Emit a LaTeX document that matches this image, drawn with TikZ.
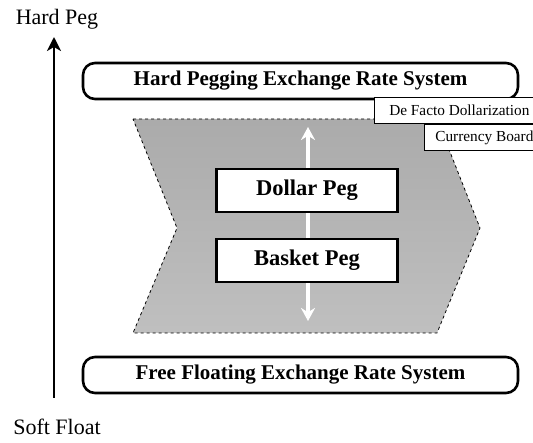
\documentclass[tikz,border=0pt]{standalone}
\usepackage{fontspec}
\setmainfont{Liberation Serif}
\usetikzlibrary{arrows.meta}

\begin{document}
\begin{tikzpicture}
  [x=1pt,y=-1pt,
   system/.style={draw,line width=2.6pt,rounded corners=12pt,minimum width=435pt,minimum height=36pt,font=\fontsize{21}{24}\selectfont\bfseries},
   peg/.style={draw,fill=white,line width=2.6pt,minimum width=181pt,minimum height=43pt,font=\fontsize{22.5}{26}\selectfont\bfseries},
   tag/.style={draw,fill=white,line width=0.8pt,anchor=west,inner xsep=5pt,minimum height=26pt,font=\fontsize{15.3}{18}\selectfont},
   axislabel/.style={font=\fontsize{22}{25}\selectfont}]
  \useasboundingbox (0,0) rectangle (533,443);

  % band of the intermediate regimes
  \draw[dashed,line width=0.8pt,top color=gray!66,bottom color=gray!50]
    (133,119) -- (437,119) -- (480,228) -- (437,333) -- (133,333) -- (177,228) -- cycle;

  \coordinate (up) at (308,127);
  \coordinate (down) at (308,321);
  \draw[white,line width=4pt,{Stealth[length=13pt,width=14pt]}-{Stealth[length=13pt,width=14pt]}] (down) -- (up);

  \node[peg] (dollar) at (307,190.5) {Dollar Peg};
  \node[peg] (basket) at (307,260.5) {Basket Peg};

  \node[system] (hard) at (300.5,81) {Hard Pegging Exchange Rate System};
  \node[system] (free) at (300.5,375) {Free Floating Exchange Rate System};

  \node[tag,minimum width=170pt] (dollarization) at (374,110) {De Facto Dollarization};
  \node[tag,minimum width=120pt] (board) at (424,137.5) {Currency Board};

  % axis
  \node[axislabel] (hardpeg) at (57,19) {Hard Peg};
  \node[axislabel] (softfloat) at (57,427) {Soft Float};
  \coordinate (bottom) at (54,398);
  \coordinate (top) at (54,37);
  \draw[line width=2.4pt,-{Stealth[length=14pt,width=14pt,inset=4pt]}] (bottom) -- (top);

\end{tikzpicture}
\end{document}
